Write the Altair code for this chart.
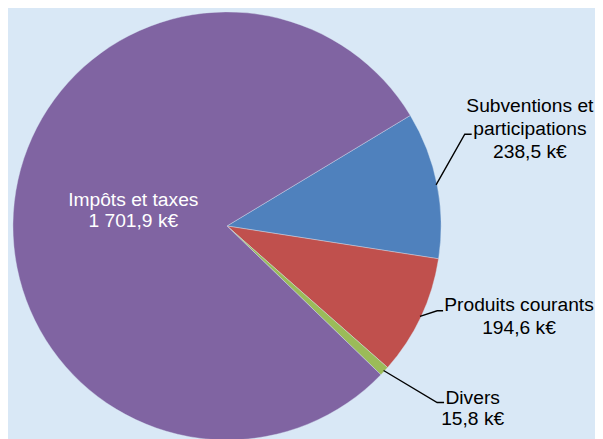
import math
import altair as alt
import pandas as pd

# ---- data ----
categories = ["Subventions et participations", "Produits courants", "Divers", "Impôts et taxes"]
values = [238.5, 194.6, 15.8, 1701.9]
label_lines = [
    ["Subventions et", "participations", "238,5 k€"],
    ["Produits courants", "194,6 k€"],
    ["Divers", "15,8 k€"],
    ["Impôts et taxes", "1 701,9 k€"],
]

# ---- style / layout ----
colors = ["#4f81bd", "#c0504d", "#9bbb59", "#8064a2"]
text_colors = ["#000000", "#000000", "#000000", "#ffffff"]
BG = "#d9e8f6"
W, H = 595, 431
CX, CY = 222, 218          # pie centre (chart coords)
R = 217                    # pie radius
START_DEG = 58.9           # angle of first slice start (clockwise from 12 o'clock)
FONT = "Liberation Sans"
FS = 19.5
# label anchor: x centre, y of first line, line step
label_anchor = [(529, 96, 23.5), (518, 298, 23), (471, 392, 22), (127, 192, 21)]
# leader line elbow and end points (None = no leader)
leader_elbow = [((463, 125), (470, 125)), ((435, 304), (441, 304)), ((435, 397), (442, 397)), None]

a0 = math.radians(START_DEG)
total = sum(values)

pie_df = pd.DataFrame({"cat": categories, "value": values, "ord": list(range(len(values)))})

pie = alt.Chart(pie_df).mark_arc(outerRadius=R, stroke=BG, strokeWidth=0.4).encode(
    theta=alt.Theta("value:Q", stack=True, scale=alt.Scale(range=[a0, a0 + 2 * math.pi])),
    color=alt.Color("cat:N", scale=alt.Scale(domain=categories, range=colors), legend=None),
    order=alt.Order("ord:Q"),
    x=alt.value(CX),
    y=alt.value(CY),
)

# leader lines: start at slice mid-angle on the rim
rows = []
cum = 0.0
for i, v in enumerate(values):
    mid = a0 + 2 * math.pi * (cum + v / 2) / total
    cum += v
    if leader_elbow[i] is None:
        continue
    sx = CX + (R - 1) * math.sin(mid)
    sy = CY - (R - 1) * math.cos(mid)
    pts = [(sx, sy), leader_elbow[i][0], leader_elbow[i][1]]
    for k, (px, py) in enumerate(pts):
        rows.append({"cat": categories[i], "i": k, "x": px, "y": py})
lines_df = pd.DataFrame(rows)

leaders = alt.Chart(lines_df).mark_line(color="#000000", strokeWidth=1.4).encode(
    x=alt.X("x:Q", scale=None, axis=None),
    y=alt.Y("y:Q", scale=None, axis=None),
    detail="cat:N",
    order="i:Q",
)

trows = []
for i, lines in enumerate(label_lines):
    ax, ay, step = label_anchor[i]
    for k, t in enumerate(lines):
        trows.append({"t": t, "x": ax, "y": ay + k * step, "c": text_colors[i]})
text_df = pd.DataFrame(trows)

labels = alt.Chart(text_df).mark_text(
    font=FONT, fontSize=FS, align="center", baseline="middle"
).encode(
    x=alt.X("x:Q", scale=None, axis=None),
    y=alt.Y("y:Q", scale=None, axis=None),
    text="t:N",
    color=alt.Color("c:N", scale=None),
)

chart = alt.layer(pie, leaders, labels).properties(
    width=W, height=H, background=BG, padding=0, autosize=alt.AutoSizeParams(type="none")
).configure_view(stroke=None)

chart.save("out.html", embed_options={"renderer": "svg", "actions": False})
